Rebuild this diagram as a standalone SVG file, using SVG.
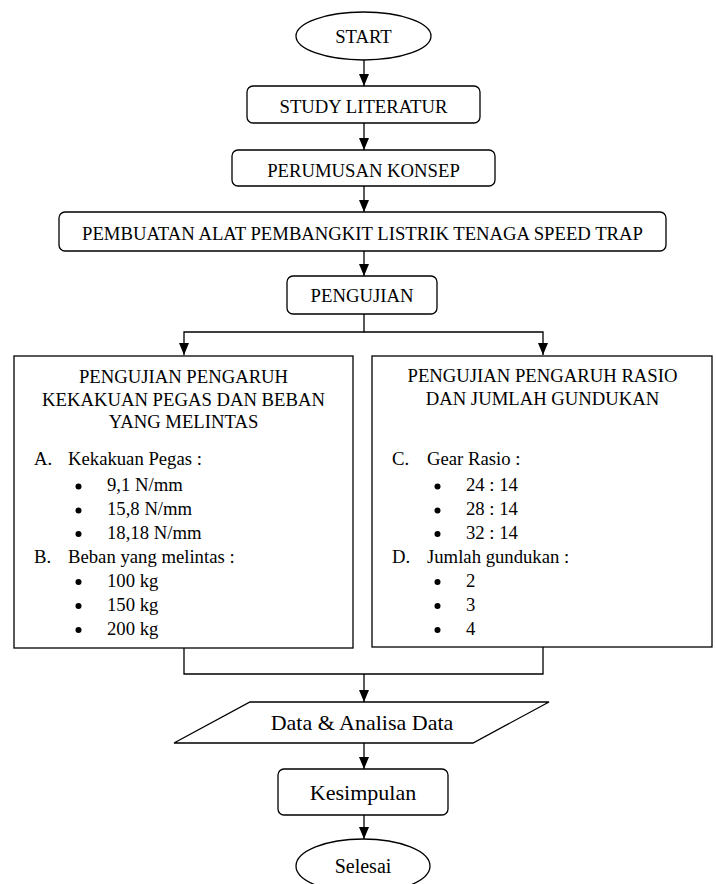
<svg xmlns="http://www.w3.org/2000/svg" width="716" height="884" viewBox="0 0 716 884">
<defs>
<style>
.s{fill:#fff;stroke:#000;stroke-width:1.3}
.t{font-family:"Liberation Serif","Times New Roman",serif;font-size:18.7px;fill:#000}
.c{text-anchor:middle}
.b{font-size:22px}
.ln{fill:none;stroke:#000;stroke-width:1.3}
</style>
<marker id="ah" markerUnits="userSpaceOnUse" viewBox="0 0 12 10" refX="12" refY="5" markerWidth="12" markerHeight="10" orient="auto">
<path d="M0,0 L12,5 L0,10 z" fill="#000"/>
</marker>
</defs>
<rect width="716" height="884" fill="#fff"/>
<g id="connectors">
<path class="ln" d="M364,60 V86" marker-end="url(#ah)"/>
<path class="ln" d="M364,123 V150" marker-end="url(#ah)"/>
<path class="ln" d="M364,186 V212" marker-end="url(#ah)"/>
<path class="ln" d="M364,251 V276" marker-end="url(#ah)"/>
<path class="ln" d="M364,314 V332 H184 V355" marker-end="url(#ah)"/>
<path class="ln" d="M364,332 H543 V355" marker-end="url(#ah)"/>
<path class="ln" d="M184,648 V674 H543 V647"/>
<path class="ln" d="M364,674 V702" marker-end="url(#ah)"/>
<path class="ln" d="M364,743 V769" marker-end="url(#ah)"/>
<path class="ln" d="M364,815 V839" marker-end="url(#ah)"/>
</g>
<g id="start">
<ellipse class="s" cx="363.5" cy="36" rx="67.5" ry="24"/>
<text class="t c" x="363.5" y="43">START</text>
</g>
<g id="study">
<rect class="s" x="247" y="86" width="233" height="37" rx="6"/>
<text class="t c" x="363.5" y="113">STUDY LITERATUR</text>
</g>
<g id="perumusan">
<rect class="s" x="232" y="150" width="263" height="36" rx="6"/>
<text class="t c" x="363.5" y="177">PERUMUSAN KONSEP</text>
</g>
<g id="pembuatan">
<rect class="s" x="59" y="212" width="607" height="39" rx="6"/>
<text class="t c" x="362.5" y="240">PEMBUATAN ALAT PEMBANGKIT LISTRIK TENAGA SPEED TRAP</text>
</g>
<g id="pengujian">
<rect class="s" x="287" y="276" width="150" height="38" rx="6"/>
<text class="t c" x="362" y="302">PENGUJIAN</text>
</g>
<g id="uji-pegas">
<rect class="s" x="14" y="356" width="339" height="292"/>
<text class="t c" x="183.5" y="383">PENGUJIAN PENGARUH</text>
<text class="t c" x="183.5" y="406">KEKAKUAN PEGAS DAN BEBAN</text>
<text class="t c" x="183.5" y="428">YANG MELINTAS</text>
<text class="t" x="34" y="465">A.</text>
<text class="t" x="68" y="465">Kekakuan Pegas :</text>
<circle cx="78.5" cy="486.5" r="3"/>
<text class="t" x="107" y="491">9,1 N/mm</text>
<circle cx="78.5" cy="510.5" r="3"/>
<text class="t" x="107" y="515">15,8 N/mm</text>
<circle cx="78.5" cy="534" r="3"/>
<text class="t" x="107" y="538.5">18,18 N/mm</text>
<text class="t" x="34" y="562.5">B.</text>
<text class="t" x="68" y="562.5">Beban yang melintas :</text>
<circle cx="78.5" cy="582" r="3"/>
<text class="t" x="107" y="586.5">100 kg</text>
<circle cx="78.5" cy="606" r="3"/>
<text class="t" x="107" y="610.5">150 kg</text>
<circle cx="78.5" cy="630" r="3"/>
<text class="t" x="107" y="634.5">200 kg</text>
</g>
<g id="uji-rasio">
<rect class="s" x="372" y="356" width="340" height="291"/>
<text class="t c" x="542.5" y="382">PENGUJIAN PENGARUH RASIO</text>
<text class="t c" x="542.5" y="404.5">DAN JUMLAH GUNDUKAN</text>
<text class="t" x="392" y="465">C.</text>
<text class="t" x="427" y="465">Gear Rasio :</text>
<circle cx="437.5" cy="486.5" r="3"/>
<text class="t" x="466" y="491">24 : 14</text>
<circle cx="437.5" cy="510.5" r="3"/>
<text class="t" x="466" y="515">28 : 14</text>
<circle cx="437.5" cy="534" r="3"/>
<text class="t" x="466" y="538.5">32 : 14</text>
<text class="t" x="392" y="562.5">D.</text>
<text class="t" x="427" y="562.5">Jumlah gundukan :</text>
<circle cx="437.5" cy="582" r="3"/>
<text class="t" x="466" y="586.5">2</text>
<circle cx="437.5" cy="606" r="3"/>
<text class="t" x="466" y="610.5">3</text>
<circle cx="437.5" cy="630" r="3"/>
<text class="t" x="466" y="634.5">4</text>
</g>
<g id="data">
<polygon class="s" points="250,702 549,702 473,743 174,743"/>
<text class="t c b" x="362" y="730">Data &amp; Analisa Data</text>
</g>
<g id="kesimpulan">
<rect class="s" x="278" y="769" width="170" height="46" rx="6"/>
<text class="t c b" x="363" y="800">Kesimpulan</text>
</g>
<g id="selesai">
<ellipse class="s" cx="363" cy="866" rx="67" ry="27"/>
<text class="t c" x="363" y="873" style="font-size:20px">Selesai</text>
</g>
</svg>
